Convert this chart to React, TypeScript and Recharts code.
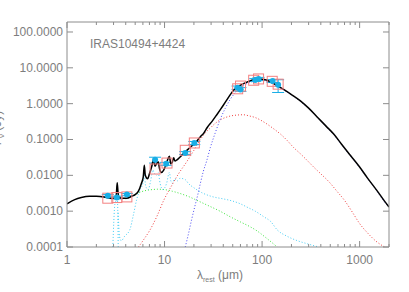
import { ComposedChart, Line, Scatter, ErrorBar, XAxis, YAxis } from 'recharts'

// ─── Data (λ_rest in µm, flux in Jy) ─────────────────────────────────────────

const totalModel = [
  [1.0, 0.0016], [1.2, 0.0021], [1.4, 0.0024], [1.7, 0.0026], [2.0, 0.0026],
  [2.4, 0.0025], [2.8, 0.0023], [3.1, 0.0023], [3.2, 0.0028], [3.27, 0.0062],
  [3.33, 0.0035], [3.4, 0.0024], [3.7, 0.0023], [4.1, 0.0023], [4.6, 0.0026],
  [5.0, 0.0029], [5.4, 0.0036], [5.8, 0.006], [6.05, 0.009], [6.2, 0.019],
  [6.35, 0.01], [6.7, 0.008], [7.0, 0.011], [7.4, 0.018], [7.7, 0.027],
  [8.0, 0.018], [8.3, 0.021], [8.6, 0.024], [8.9, 0.015], [9.3, 0.012],
  [9.8, 0.014], [10.3, 0.019], [10.8, 0.028], [11.2, 0.034], [11.6, 0.021],
  [12.0, 0.023], [12.4, 0.031], [12.8, 0.025], [13.4, 0.027], [14.5, 0.033],
  [16.0, 0.043], [17.5, 0.054], [19.0, 0.066], [20.7, 0.08], [23.3, 0.12],
  [25.2, 0.15], [27.5, 0.22], [30.7, 0.32], [34.5, 0.5], [37.3, 0.68],
  [42, 1.1], [51.4, 2.4], [60, 3.3], [70, 4.0], [76, 4.4], [85, 4.8],
  [95, 4.9], [105, 4.7], [121, 4.1], [140, 3.3], [166, 2.5], [200, 1.8],
  [247, 1.2], [300, 0.75], [369, 0.42], [450, 0.24], [545, 0.14], [650, 0.075],
  [810, 0.035], [1000, 0.017], [1200, 0.0085], [1500, 0.0038], [1800, 0.0019],
  [2000, 0.0013],
]

const warmDust = [
  [5.4, 0.0001], [6.2, 0.00017], [7.1, 0.0003], [8.5, 0.0008], [9.8, 0.002],
  [11.5, 0.0045], [13.9, 0.011], [16.9, 0.024], [20, 0.05], [23.3, 0.1],
  [26, 0.15], [29.5, 0.21], [33, 0.28], [37, 0.35], [42, 0.41], [47, 0.45],
  [55, 0.48], [64, 0.49], [75, 0.45], [85, 0.41], [96, 0.35], [110, 0.28],
  [131, 0.2], [155, 0.14], [180, 0.095], [210, 0.06], [247, 0.04], [290, 0.026],
  [338, 0.017], [400, 0.011], [480, 0.0068], [590, 0.0035], [700, 0.002],
  [850, 0.0009], [1000, 0.00045], [1200, 0.00025], [1450, 0.00015], [1800, 0.0001],
]

const coldDust = [
  [16.3, 0.0001], [17.5, 0.00022], [19, 0.0006], [20.5, 0.0014], [22, 0.003],
  [23.3, 0.006], [25, 0.013], [27, 0.025], [29.5, 0.06], [33, 0.15], [37, 0.35],
  [42, 0.75], [47, 1.3], [52, 1.9], [58, 2.6], [65, 3.3], [75, 3.9], [85, 4.3],
  [95, 4.5], [105, 4.4], [121, 3.9], [140, 3.15], [166, 2.4], [200, 1.75],
  [247, 1.16], [300, 0.73], [369, 0.41], [450, 0.235], [545, 0.135], [650, 0.073],
  [810, 0.034], [1000, 0.0165], [1200, 0.0083], [1500, 0.0037], [1800, 0.0018],
  [2000, 0.0013],
]

const hotDust = [
  [4.0, 0.0022], [4.8, 0.0027], [5.5, 0.0033], [6.5, 0.0038], [7.5, 0.004],
  [8.5, 0.0041], [10, 0.004], [12, 0.0036], [14.5, 0.0031], [18, 0.0025],
  [21.5, 0.002], [27, 0.0015], [37, 0.001], [47, 0.0007], [60, 0.0005],
  [75, 0.00037], [89, 0.00028], [110, 0.00018], [143, 0.0001],
]

const pah33 = [
  [2.95, 0.0001], [3.1, 0.0016], [3.22, 0.0022], [3.27, 0.0036], [3.3, 0.002],
  [3.35, 0.0001],
]

const pahBand = [
  [3.35, 0.0009], [3.45, 0.0002], [3.6, 0.00015], [3.9, 0.0002], [4.4, 0.0003],
  [4.8, 0.0008], [5.2, 0.0022], [5.6, 0.004], [6.0, 0.006], [6.2, 0.011],
  [6.4, 0.005], [6.8, 0.004], [7.2, 0.007], [7.6, 0.014], [7.8, 0.012],
  [8.3, 0.01], [8.6, 0.012], [9.0, 0.006], [9.6, 0.004], [10.5, 0.006],
  [11.2, 0.012], [11.6, 0.007], [12.0, 0.006], [12.7, 0.008], [13.5, 0.007],
  [14.4, 0.0083], [16.4, 0.0075], [17.5, 0.006], [20, 0.0045], [24, 0.0033],
  [30, 0.0026], [40, 0.0022], [47, 0.002], [60, 0.0016], [70, 0.0013],
  [85, 0.001], [104, 0.0007], [122, 0.00052], [143, 0.0003], [180, 0.0002],
  [230, 0.00015], [300, 0.00012], [380, 0.0001],
]

// observed photometry: λ, flux, error
const observed = [
  [2.62, 0.0027, 0.0002], [3.24, 0.0024, 0.0002], [4.11, 0.0029, 0.0002],
  [8.0, 0.027, 0.005], [10.4, 0.021, 0.002], [16.3, 0.042, 0.004],
  [20.2, 0.08, 0.008], [56, 2.8, 0.3], [60, 2.5, 0.3], [85, 4.6, 0.4],
  [92, 4.9, 0.5], [128, 4.3, 0.4], [146, 3.35, 1.3],
]

// model photometry
const modelPhot = [
  [2.62, 0.0023], [3.24, 0.0024], [4.11, 0.0025], [8.0, 0.015], [10.6, 0.022],
  [16.3, 0.05], [20.2, 0.08], [56.2, 2.6], [60.1, 3.1], [82, 4.5], [92, 4.9],
  [127, 4.2], [146, 3.5],
]

const xTicks = [
  1, 2, 3, 4, 5, 6, 7, 8, 9, 10, 20, 30, 40, 50, 60, 70, 80, 90,
  100, 200, 300, 400, 500, 600, 700, 800, 900, 1000, 2000,
]
const xMajor = [1, 10, 100, 1000]
const yTicks = [0.0001, 0.001, 0.01, 0.1, 1, 10, 100]

// ─── Style ───────────────────────────────────────────────────────────────────

const W = 409
const H = 292
const FONT = '"Liberation Sans", Arial, Helvetica, sans-serif'
const AXIS = '#8c8c8c'
const TEXT = '#7d7d7d'
const CYAN = '#18aee6'
const PINK = '#f48080'

const toPts = (arr: number[][]) => arr.map(([x, y]) => ({ x, y }))

// ─── Ticks ───────────────────────────────────────────────────────────────────

function BottomTick(props: any) {
  const { x, y, payload } = props
  const major = xMajor.includes(payload.value)
  return (
    <g>
      <line x1={x} x2={x} y1={y} y2={y - (major ? 6 : 3)} stroke={AXIS} />
      {major && (
        <text x={x} y={y + 17} textAnchor="middle" fontSize={12} fill={TEXT} fontFamily={FONT}>
          {payload.value}
        </text>
      )}
    </g>
  )
}

function TopTick(props: any) {
  const { x, y, payload } = props
  const major = xMajor.includes(payload.value)
  return <line x1={x} x2={x} y1={y} y2={y + (major ? 6 : 3)} stroke={AXIS} />
}

function LeftTick(props: any) {
  const { x, y, payload } = props
  return (
    <g>
      <line x1={x} x2={x + 6} y1={y} y2={y} stroke={AXIS} />
      <text x={x - 4} y={y + 4} textAnchor="end" fontSize={12} fill={TEXT} fontFamily={FONT}>
        {Number(payload.value).toFixed(4)}
      </text>
    </g>
  )
}

function RightTick(props: any) {
  const { x, y } = props
  return <line x1={x} x2={x - 6} y1={y} y2={y} stroke={AXIS} />
}

function SquareShape(props: any) {
  const { cx, cy } = props
  return <rect x={cx - 5} y={cy - 5} width={10} height={10} fill="none" stroke={PINK} strokeWidth={1} />
}

function DotShape(props: any) {
  const { cx, cy } = props
  return <circle cx={cx} cy={cy} r={3} fill={CYAN} />
}

// ─── Chart ───────────────────────────────────────────────────────────────────

export default function App() {
  const dotted = { strokeWidth: 1, strokeDasharray: '1 2', dot: false, isAnimationActive: false, type: 'monotoneX' as const }
  return (
    <div style={{ position: 'absolute', left: 0, top: 0, width: W, height: H, background: '#fff' }}>
      <ComposedChart width={W} height={H} margin={{ top: 21, right: 19, bottom: 44, left: 66 }}>
        <XAxis
          xAxisId="b"
          dataKey="x"
          type="number"
          scale="log"
          domain={[1, 2000]}
          allowDataOverflow
          ticks={xTicks}
          interval={0}
          height={1}
          tickSize={0}
          tickMargin={0}
          tick={<BottomTick />}
          stroke={AXIS}
        />
        <XAxis
          xAxisId="t"
          orientation="top"
          dataKey="x"
          type="number"
          scale="log"
          domain={[1, 2000]}
          allowDataOverflow
          ticks={xTicks}
          interval={0}
          height={1}
          tickSize={0}
          tickMargin={0}
          tick={<TopTick />}
          stroke={AXIS}
        />
        <YAxis
          yAxisId="l"
          dataKey="y"
          type="number"
          scale="log"
          domain={[0.0001, 190]}
          allowDataOverflow
          ticks={yTicks}
          interval={0}
          width={1}
          tickSize={0}
          tickMargin={0}
          tick={<LeftTick />}
          stroke={AXIS}
        />
        <YAxis
          yAxisId="r"
          orientation="right"
          dataKey="y"
          type="number"
          scale="log"
          domain={[0.0001, 190]}
          allowDataOverflow
          ticks={yTicks}
          interval={0}
          width={1}
          tickSize={0}
          tickMargin={0}
          tick={<RightTick />}
          stroke={AXIS}
        />

        <Line xAxisId="b" yAxisId="l" data={toPts(hotDust)} dataKey="y" stroke="#3ee63e" {...dotted} />
        <Line xAxisId="b" yAxisId="l" data={toPts(pahBand)} dataKey="y" stroke="#45cdf5" {...dotted} />
        <Line xAxisId="b" yAxisId="l" data={toPts(pah33)} dataKey="y" stroke="#45cdf5" {...dotted} />
        <Line xAxisId="b" yAxisId="l" data={toPts(warmDust)} dataKey="y" stroke="#f03c3c" {...dotted} />
        <Line xAxisId="b" yAxisId="l" data={toPts(coldDust)} dataKey="y" stroke="#4a4af5" {...dotted} />

        <Scatter
          xAxisId="b"
          yAxisId="l"
          data={toPts(modelPhot)}
          dataKey="y"
          shape={<SquareShape />}
          isAnimationActive={false}
        />
        <Scatter
          xAxisId="b"
          yAxisId="l"
          data={observed.map(([x, y, err]) => ({ x, y, err }))}
          dataKey="y"
          shape={<DotShape />}
          isAnimationActive={false}
        >
          <ErrorBar dataKey="err" direction="y" stroke={CYAN} strokeWidth={1} width={6} isAnimationActive={false} />
        </Scatter>

        <Line
          xAxisId="b"
          yAxisId="l"
          data={toPts(totalModel)}
          dataKey="y"
          type="monotoneX"
          stroke="#000"
          strokeWidth={1.5}
          dot={false}
          isAnimationActive={false}
        />
      </ComposedChart>

      {/* texts on top */}
      <svg width={W} height={H} style={{ position: 'absolute', left: 0, top: 0, pointerEvents: 'none' }}>
        <text x={90} y={48} fontSize={12} fill={TEXT} fontFamily={FONT}>
          IRAS10494+4424
        </text>
        <text x={197} y={279} fontSize={12} fill={TEXT} fontFamily={FONT}>
          λ
          <tspan fontSize={7} dy={3}>rest</tspan>
          <tspan dy={-3}> (μm)</tspan>
        </text>
        <text transform="translate(1,128) rotate(-90)" textAnchor="middle" fontSize={12} fill={TEXT} fontFamily={FONT}>
          F<tspan fontSize={8} dy={3}>ν</tspan>
          <tspan dy={-3}> (Jy)</tspan>
        </text>
      </svg>
    </div>
  )
}
